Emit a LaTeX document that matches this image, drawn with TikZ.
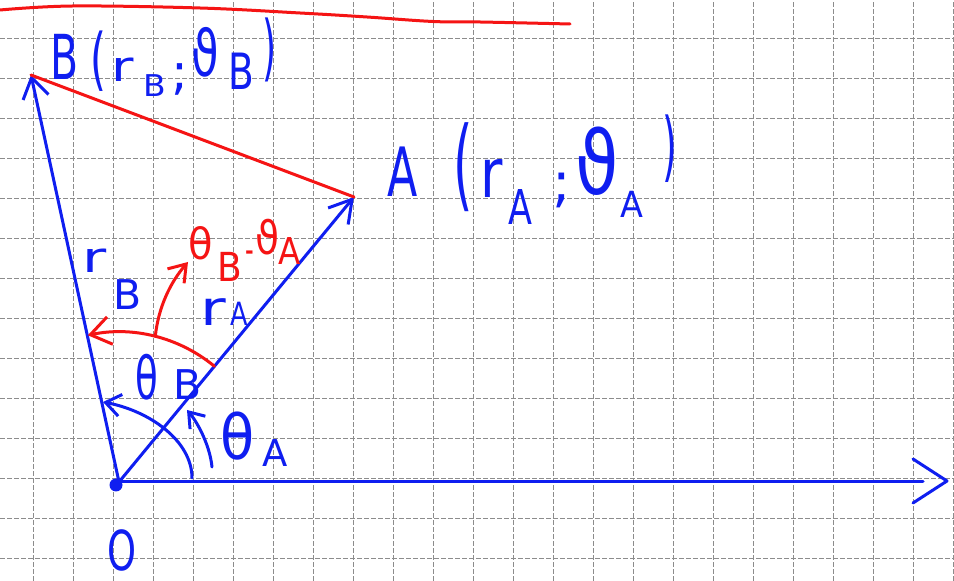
\documentclass[tikz,border=0pt]{standalone}
\usepackage{fontspec}
\usepackage{graphicx}
\setmainfont{DejaVu Sans}
\usetikzlibrary{arrows.meta,calc}
\definecolor{myblue}{RGB}{15,30,240}
\definecolor{myred}{RGB}{245,20,20}
\definecolor{gridgray}{RGB}{140,140,140}
% glyph placer: width, raise, xscale, size, glyph
\newcommand\gl[5]{\makebox[#1pt][l]{\raisebox{#2pt}{\scalebox{#3}[1]{\fontsize{#4}{#4}\selectfont #5}}}}
\begin{document}
\begin{tikzpicture}[x=1pt,y=1pt,
  gridline/.style={draw=gridgray, line width=1.3pt, dash pattern=on 4.5pt off 2.5pt},
  bl/.style={draw=myblue, line width=3pt, line cap=round, line join=round},
  rd/.style={draw=myred, line width=3pt, line cap=round, line join=round},
  txt/.style={inner sep=0pt, outer sep=0pt, anchor=base west},
  bltxt/.style={txt, text=myblue},
  rdtxt/.style={txt, text=myred}]
\useasboundingbox (0,0) rectangle (954,581);
\fill[white] (0,0) rectangle (954,581);
% grid
\foreach \i in {0,...,23} \draw[gridline] ({33.3+40*\i},0) -- ({33.3+40*\i},581);
\foreach \j in {0,...,13} \draw[gridline] (0,{542.7-40*\j}) -- (954,{542.7-40*\j});
% top red stroke
\draw[rd] plot[smooth, tension=0.6] coordinates {(0,571) (73,575) (200,573) (300,568) (367,564) (433,559.5) (480,559) (570,557)};
% points
\coordinate (O) at (119,99);
\coordinate (B) at (31,506);
\coordinate (A) at (354,384);
\coordinate (X) at (923,99);
\coordinate (xa) at (913,122);
\coordinate (xt) at (947,100);
\coordinate (xb) at (913,78);
\node[circle, fill=myblue, minimum size=13pt, inner sep=0pt] (Odot) at (116,96) {};
% axis
\draw[bl] (O) -- (X);
\draw[bl] (xa) -- (xt) -- (xb);
% vectors
\draw[bl, -{Straight Barb[length=20pt,width=26pt]}] (O) -- (B);
\draw[bl, -{Straight Barb[length=22pt,width=26pt]}] (O) -- (A);
% red chord
\draw[rd] (B) -- (A);
% red angle arc
\draw[rd, -{Straight Barb[length=20pt,width=28pt]}] ($(O)+(50.5:150)$) arc[start angle=50.5, end angle=102, radius=150];
\coordinate (rp) at ($(O)+(76:150)$);
\coordinate (rt) at (188,319);
\draw[rd, -{Straight Barb[length=16pt,width=22pt]}] (rp) .. controls ($(rp)+(3,29)$) and ($(rp)+(15,54)$) .. (rt);
% theta_B arc
\coordinate (tb0) at (192,103);
\coordinate (tb1) at (103,179);
\draw[bl, -{Straight Barb[length=15pt,width=22pt]}] (tb0) .. controls (192,140) and (150,170) .. (tb1);
% theta_A arc
\coordinate (ta0) at (212,114);
\coordinate (ta1) at (187,171);
\draw[bl, -{Straight Barb[length=14pt,width=20pt]}] (ta0) .. controls (210,135) and (198,158) .. (ta1);
% labels
\node[bltxt] (labB) at (50,501) {\gl{40}{0}{0.66}{62}{B}\gl{22}{-3}{0.6}{68}{(}\gl{31}{-2}{1.3}{42}{r}\gl{29}{-17}{1.1}{30}{B}\gl{20}{-10}{1}{50}{;}\gl{36}{3}{0.7}{64}{ϑ}\gl{35}{-10}{0.75}{50}{B}\gl{15}{7}{0.5}{72}{)}};
\node[bltxt] (labA) at (387,384) {\gl{66}{0}{0.65}{68}{A}\gl{27}{-2}{0.5}{100}{(}\gl{28}{-1}{0.8}{68}{r}\gl{44}{-28}{0.73}{48}{A}\gl{23}{-5}{1}{55}{;}\gl{45}{2}{0.8}{88}{ϑ}\gl{42}{-21}{0.93}{36}{A}\gl{15}{24}{0.5}{76}{)}};
\node[bltxt] (labrB) at (82,308) {\gl{31}{0}{1.4}{42}{r}\gl{28}{-37}{1}{41}{B}};
\node[bltxt] (labrA) at (200,255) {\gl{30}{0}{1.3}{48}{r}\gl{18}{0}{0.8}{32}{A}};
\node[rdtxt] (labdiff) at (188,321) {\gl{29}{0}{0.93}{43}{θ}\gl{28}{-22}{0.9}{40}{B}\gl{10}{-4}{0.6}{40}{-}\gl{23}{5}{0.85}{46}{ϑ}\gl{23}{-5}{0.88}{37}{A}};
\node[bltxt] (labtB) at (135,181) {\gl{38}{0}{0.63}{59}{θ}\gl{28}{0}{1}{41}{B}};
\node[bltxt] (labtA) at (220,121) {\gl{42}{0}{0.9}{62}{θ}\gl{26}{-7}{1}{37}{A}};
\node[bltxt] (labO) at (107,10) {\gl{31}{0}{0.67}{55}{O}};
\end{tikzpicture}
\end{document}
